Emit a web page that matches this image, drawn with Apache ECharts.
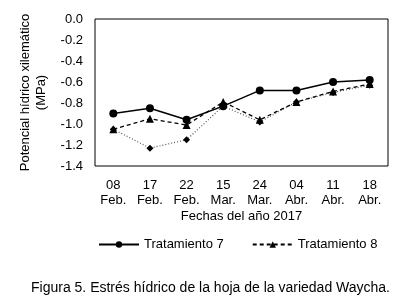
<!DOCTYPE html>
<html>
<head>
<meta charset="utf-8">
<script src="https://cdn.jsdelivr.net/npm/echarts@6/dist/echarts.min.js"></script>
<style>
html, body { margin: 0; padding: 0; background: #fff; }
#chart { width: 418px; height: 299px; }
</style>
</head>
<body>
<div id="chart"></div>
<script>
// fechas de muestreo
var fechas = ['08\nFeb.', '17\nFeb.', '22\nFeb.', '15\nMar.', '24\nMar.', '04\nAbr.', '11\nAbr.', '18\nAbr.'];
// potencial hidrico (MPa)
var trat7 = [-0.90, -0.85, -0.96, -0.83, -0.68, -0.68, -0.60, -0.58];
var trat8 = [-1.05, -0.95, -1.01, -0.79, -0.96, -0.79, -0.69, -0.62];
var tratX = [-1.05, -1.23, -1.15, -0.83, -0.98, -0.79, -0.70, -0.63];

var fuente = 'Liberation Sans, Arial, sans-serif';

var chart = echarts.init(document.getElementById('chart'));

var option = {
	animation: false,
	textStyle: { fontFamily: fuente, color: '#000' },
	title: {
		text: 'Figura 5. Estrés hídrico de la hoja de la variedad Waycha.',
		left: 26,
		top: 276,
		textStyle: { fontFamily: fuente, fontSize: 14, fontWeight: 'normal', color: '#000' }
	},
	legend: {
		data: ['Tratamiento 7', 'Tratamiento 8'],
		top: 233,
		left: 93,
		itemWidth: 40,
		itemHeight: 8,
		itemGap: 28,
		textStyle: { fontFamily: fuente, fontSize: 13, color: '#000' }
	},
	grid: {
		left: 95,
		right: 30,
		top: 19,
		bottom: 133,
		show: true,
		borderColor: '#000',
		borderWidth: 1
	},
	xAxis: {
		type: 'category',
		data: fechas,
		name: 'Fechas del año 2017',
		nameLocation: 'middle',
		nameGap: 44,
		nameTextStyle: { fontFamily: fuente, fontSize: 13, color: '#000' },
		axisLine: { show: false },
		axisTick: { show: false },
		axisLabel: { fontFamily: fuente, fontSize: 13, color: '#000', margin: 12, lineHeight: 15 }
	},
	yAxis: {
		type: 'value',
		min: -1.4,
		max: 0,
		interval: 0.2,
		name: 'Potencial hídrico xilemático\n(MPa)',
		nameLocation: 'middle',
		nameGap: 43,
		nameTextStyle: { fontFamily: fuente, fontSize: 13, color: '#000', lineHeight: 16 },
		axisLine: { show: false },
		axisTick: { show: false },
		splitLine: { show: false },
		axisLabel: {
			fontFamily: fuente, fontSize: 13, color: '#000', margin: 12,
			formatter: function (v) { return v.toFixed(1); }
		}
	},
	series: [
		{
			name: 'Tratamiento 7',
			type: 'line',
			data: trat7,
			symbol: 'circle',
			symbolSize: 8,
			itemStyle: { color: '#000' },
			lineStyle: { color: '#000', width: 1.5, type: 'solid' },
			z: 4
		},
		{
			name: 'Tratamiento 8',
			type: 'line',
			data: trat8,
			symbol: 'triangle',
			symbolSize: 8,
			itemStyle: { color: '#000' },
			lineStyle: { color: '#000', width: 1.3, type: [4, 3] },
			z: 3
		},
		{
			name: 'Tratamiento X',
			type: 'line',
			data: tratX,
			symbol: 'diamond',
			symbolSize: 7,
			itemStyle: { color: '#000' },
			lineStyle: { color: '#555', width: 1.2, type: [1, 2] },
			z: 2
		}
	]
};

chart.setOption(option);
</script>
</body>
</html>
